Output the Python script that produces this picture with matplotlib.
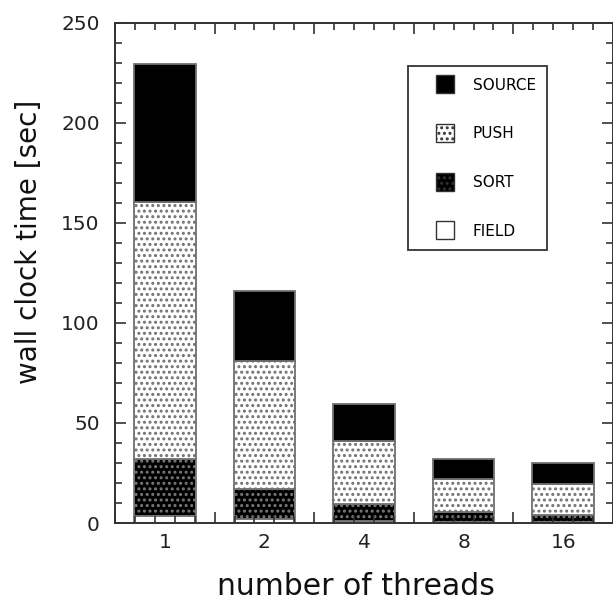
import numpy as np
from matplotlib import pyplot as plt
from matplotlib.patches import Rectangle
from matplotlib.legend_handler import HandlerPatch

threads = ["1", "2", "4", "8", "16"]
field = [3.5, 2.0, 1.0, 0.3, 0.3]
sort = [28.5, 15.0, 8.5, 5.2, 3.7]
push = [128.5, 64.0, 31.5, 16.5, 15.5]
source = [69.0, 35.0, 18.5, 10.0, 10.5]

plt.rcParams['hatch.linewidth'] = 1.4

fig = plt.figure(figsize=(6.13, 6.08), dpi=100)
ax = fig.add_axes([0.1876, 0.1398, 0.8124, 0.8224])

x = np.arange(1, len(threads) + 1)
edge = '#707070'
w = 0.62

bottom = np.zeros(len(threads))
b_field = ax.bar(x, field, w, bottom=bottom, color='white', edgecolor=edge, linewidth=1.3, label='FIELD')
bottom += field
b_sort = ax.bar(x, sort, w, bottom=bottom, color='black', edgecolor='#7a7a7a', hatch='...', linewidth=1.3, label='SORT')
bottom += sort
b_push = ax.bar(x, push, w, bottom=bottom, color='white', edgecolor=edge, hatch='...', linewidth=1.3, label='PUSH')
bottom += push
b_src = ax.bar(x, source, w, bottom=bottom, color='black', edgecolor=edge, linewidth=1.3, label='SOURCE')

ax.set_xlim(0.5, 5.5)
ax.set_ylim(0, 250)

# x ticks: majors between the bars, minors every 0.2, labels on a secondary axis
ax.set_xticks(np.arange(0.5, 5.51, 1.0))
ax.set_xticks(np.arange(0.5, 5.51, 0.2), minor=True)
ax.xaxis.set_ticklabels([])
ax.set_yticks(np.arange(0, 251, 50))
ax.set_yticks(np.arange(0, 251, 10), minor=True)
ax.tick_params(which='both', direction='in', top=True, right=True, color='#333333', width=1.2)
ax.tick_params(which='major', length=8)
ax.tick_params(which='minor', length=5)
ax.tick_params(axis='y', labelsize=14.5, pad=11, labelcolor='#222222')

for sp in ax.spines.values():
    sp.set_linewidth(1.4)
    sp.set_color('#333333')

sec = ax.secondary_xaxis('bottom')
sec.set_xticks(x, labels=threads)
sec.tick_params(length=0, labelsize=14.5, pad=7, labelcolor='#222222')
sec.spines['bottom'].set_visible(False)

ax.set_xlabel("number of threads", fontsize=21.5, color='#111111')
ax.xaxis.set_label_coords(0.484, -0.098)
ax.set_ylabel("wall clock time [sec]", fontsize=20, color='#111111')
ax.yaxis.set_label_coords(-0.145, 0.562)


def small_square(legend, orig_handle, xdescent, ydescent, width, height, fontsize):
    s = 13
    return Rectangle((width / 2 - s / 2 - xdescent, height / 2 - s / 2 - ydescent), s, s)


handles = [b_src, b_push, b_sort, b_field]
labels = ['SOURCE', 'PUSH', 'SORT', 'FIELD']
leg = ax.legend([h[0] for h in handles], labels, loc='upper left',
                bbox_to_anchor=(0.588, 0.914), borderaxespad=0,
                fontsize=11, labelspacing=2.2, borderpad=0.75,
                handlelength=3.4, handleheight=1.0, handletextpad=0.1,
                fancybox=False, framealpha=1,
                handler_map={Rectangle: HandlerPatch(patch_func=small_square)})
leg.get_frame().set_edgecolor('#333333')
leg.get_frame().set_linewidth(1.3)
for h in leg.legend_handles:
    h.set_edgecolor('#333333')
    h.set_linewidth(1.0)

plt.savefig("out.png", dpi=100)
